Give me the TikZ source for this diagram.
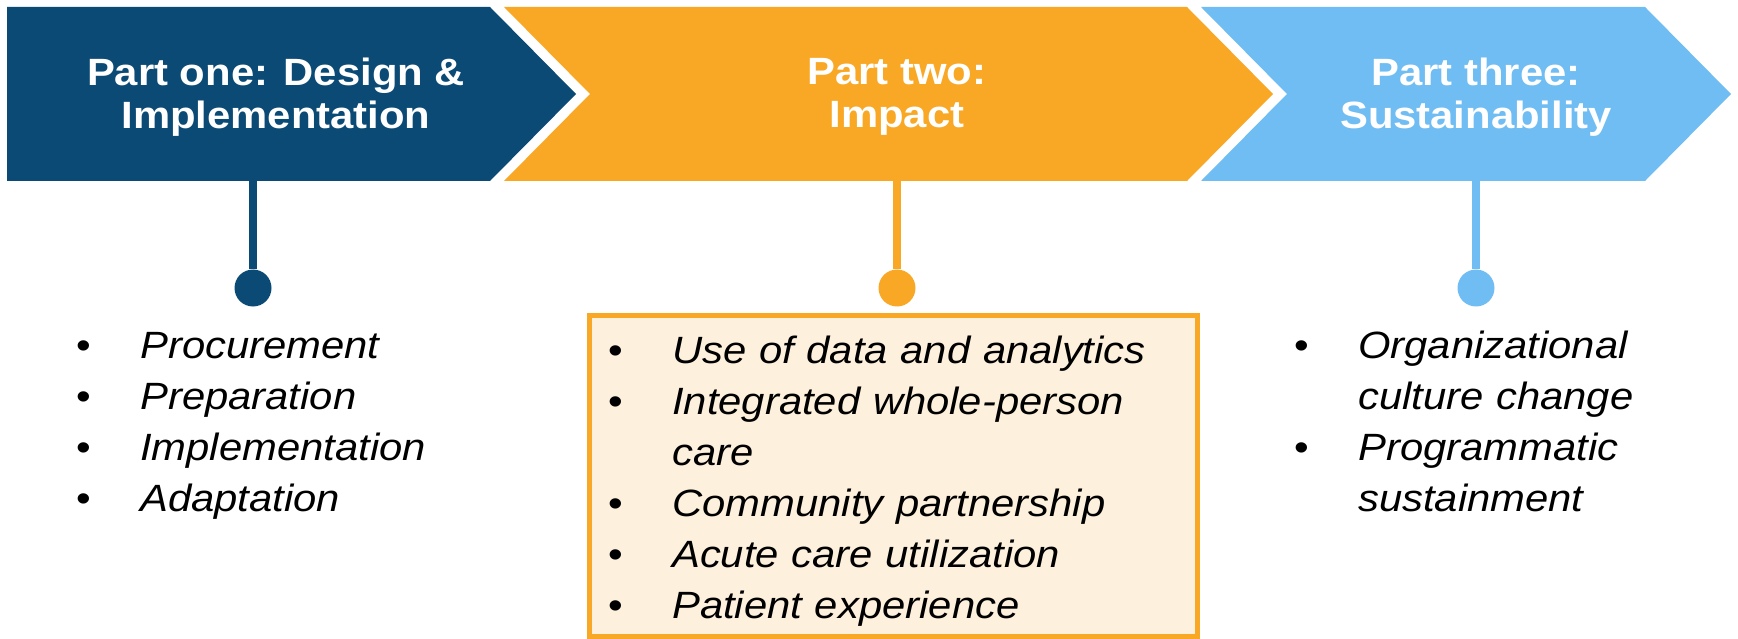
\documentclass[tikz,border=0pt]{standalone}
\usepackage{fontspec}
\setmainfont{Liberation Sans}[FakeStretch=1.1]
\definecolor{navy}{HTML}{0B4A75}
\definecolor{amber}{HTML}{F9A825}
\definecolor{sky}{HTML}{70BDF3}
\definecolor{cream}{HTML}{FDF0DC}
\tikzset{
  head/.style={text=white,font=\fontsize{38}{43}\selectfont\bfseries,align=center,inner sep=0pt},
  stem/.style={line width=8pt},
  dot/.style={circle,minimum size=37pt,inner sep=0pt},
  items/.style={font=\fontsize{38}{51}\selectfont,text width=#1,align=left,inner sep=0pt,anchor=base west},
}
\newcommand{\itm}[1]{\makebox[64pt][l]{\textbullet}\textit{#1}}
\newcommand{\cont}[1]{\hspace*{64pt}\textit{#1}}
\begin{document}
\begin{tikzpicture}[x=1pt,y=-1pt]
    \useasboundingbox (0,0) rectangle (1738,639);

    % 矢印
    \fill[navy] (7,7) -- (490,7) -- (576,94) -- (490,181) -- (7,181) -- cycle;
    \fill[amber] (504,7) -- (1187,7) -- (1273,94) -- (1187,181) -- (504,181) -- (590,94) -- cycle;
    \fill[sky] (1201,7) -- (1645,7) -- (1731,94) -- (1645,181) -- (1201,181) -- (1287,94) -- cycle;

    \node[head] (one) at (276,97) {Part one: Design \&\\Implementation};
    \node[head] (two) at (897,97) {Part two:\\Impact};
    \node[head] (three) at (1476,97) {Part three:\\Sustainability};

    % 縦線と点
    \coordinate (onefoot) at (253,181);
    \coordinate (twofoot) at (897,181);
    \coordinate (threefoot) at (1476,181);
    \node[dot,fill=navy] (onedot) at (253,288) {};
    \node[dot,fill=amber] (twodot) at (897,288) {};
    \node[dot,fill=sky] (threedot) at (1476,288) {};
    \draw[stem,navy] (onefoot) -- (onedot);
    \draw[stem,amber] (twofoot) -- (twodot);
    \draw[stem,sky] (threefoot) -- (threedot);

    % 項目
    \draw[amber,line width=5pt,fill=cream] (589.5,315.5) rectangle (1197.5,636.5);
    \node[items=400pt] (onelist) at (76,358) {\itm{Procurement}\\\itm{Preparation}\\\itm{Implementation}\\\itm{Adaptation}};
    \node[items=560pt] (twolist) at (608,363) {\itm{Use of data and analytics}\\\itm{Integrated whole-person}\\\cont{care}\\\itm{Community partnership}\\\itm{Acute care utilization}\\\itm{Patient experience}};
    \node[items=400pt] (threelist) at (1294,358) {\itm{Organizational}\\\cont{culture change}\\\itm{Programmatic}\\\cont{sustainment}};
\end{tikzpicture}
\end{document}
